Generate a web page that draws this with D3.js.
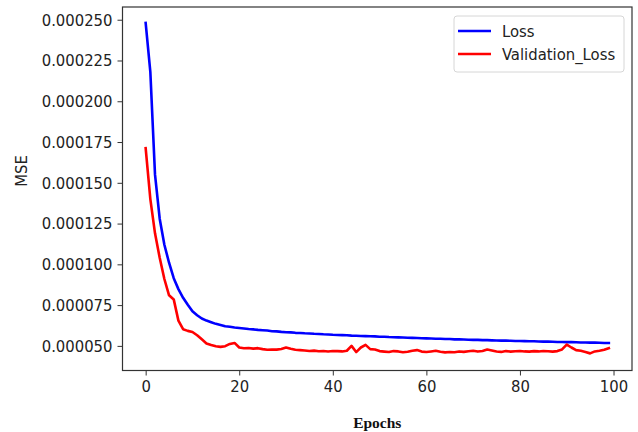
<!DOCTYPE html>
<html>
<head>
<meta charset="utf-8">
<script src="https://cdn.jsdelivr.net/npm/d3@7"></script>
<style>
    body { margin: 0; background: #fff; }
    svg { display: block; }
    .tick text { font-family: "DejaVu Sans Condensed", "DejaVu Sans", sans-serif; font-size: 16.5px; fill: #222; }
    .tick line { stroke: #333; }
    .domain { display: none; }
</style>
</head>
<body>
<div id="chart"></div>
<script>
let epochs = d3.range(0, 100);

let loss = [
    0.000248, 0.000218, 0.000155, 0.000128, 0.000112, 0.000101, 0.0000915, 0.0000848, 0.0000795, 0.0000752,
    0.0000712, 0.0000688, 0.0000668, 0.0000655, 0.0000645, 0.0000635, 0.0000628, 0.0000620, 0.0000617, 0.0000613,
    0.0000610, 0.0000607, 0.0000603, 0.0000601, 0.0000598, 0.0000596, 0.0000594, 0.0000590, 0.0000589, 0.0000586,
    0.0000584, 0.0000583, 0.0000580, 0.0000579, 0.0000577, 0.0000576, 0.0000574, 0.0000573, 0.0000571, 0.0000570,
    0.0000568, 0.0000567, 0.0000566, 0.0000565, 0.0000563, 0.0000562, 0.0000561, 0.0000560, 0.0000559, 0.0000558,
    0.0000556, 0.0000556, 0.0000554, 0.0000553, 0.0000552, 0.0000551, 0.0000550, 0.0000549, 0.0000548, 0.0000547,
    0.0000546, 0.0000545, 0.0000544, 0.0000544, 0.0000542, 0.0000542, 0.0000540, 0.0000540, 0.0000539, 0.0000538,
    0.0000537, 0.0000537, 0.0000535, 0.0000535, 0.0000534, 0.0000533, 0.0000532, 0.0000532, 0.0000531, 0.0000530,
    0.0000530, 0.0000529, 0.0000528, 0.0000528, 0.0000527, 0.0000526, 0.0000526, 0.0000525, 0.0000524, 0.0000524,
    0.0000523, 0.0000523, 0.0000522, 0.0000521, 0.0000521, 0.0000520, 0.0000520, 0.0000519, 0.0000518, 0.0000518
];

let valLoss = [
    0.0001713, 0.000140, 0.000119, 0.000104, 0.000091, 0.000081, 0.0000785, 0.0000655, 0.0000602, 0.0000592,
    0.0000585, 0.0000565, 0.0000540, 0.0000515, 0.0000505, 0.0000498, 0.0000494, 0.0000498, 0.0000512, 0.0000518,
    0.0000490, 0.0000485, 0.0000487, 0.0000483, 0.0000486, 0.0000480, 0.0000476, 0.0000478, 0.0000477, 0.0000481,
    0.0000490, 0.0000482, 0.0000476, 0.0000474, 0.0000472, 0.0000469, 0.0000471, 0.0000467, 0.0000469, 0.0000466,
    0.0000469, 0.0000468, 0.0000466, 0.0000470, 0.0000500, 0.0000462, 0.0000490, 0.0000506, 0.0000480, 0.0000478,
    0.0000468, 0.0000465, 0.0000462, 0.0000468, 0.0000466, 0.0000461, 0.0000464, 0.0000470, 0.0000474, 0.0000465,
    0.0000462, 0.0000466, 0.0000470, 0.0000464, 0.0000460, 0.0000462, 0.0000461, 0.0000466, 0.0000463, 0.0000467,
    0.0000470, 0.0000465, 0.0000469, 0.0000478, 0.0000472, 0.0000466, 0.0000463, 0.0000468, 0.0000465, 0.0000467,
    0.0000469, 0.0000466, 0.0000465, 0.0000468, 0.0000466, 0.0000469, 0.0000467, 0.0000465, 0.0000468, 0.0000478,
    0.0000508, 0.0000490, 0.0000474, 0.0000470, 0.0000462, 0.0000454, 0.0000466, 0.0000470, 0.0000476, 0.0000486
];

let xTicks = [0, 20, 40, 60, 80, 100];
let yTicks = [0.00005, 0.000075, 0.0001, 0.000125, 0.00015, 0.000175, 0.0002, 0.000225, 0.00025];

let series = [
    {name: "Loss", values: loss, color: "#0000ff"},
    {name: "Validation_Loss", values: valLoss, color: "#ff0000"}
];

let W = 638, H = 432;
let plotLeft = 122.5, plotRight = 632, plotTop = 7, plotBottom = 370.5;

let svg = d3.select("#chart").append("svg")
    .attr("width", W)
    .attr("height", H);

let x = d3.scaleLinear().domain([-4.95, 103.95]).range([plotLeft, plotRight]);
let y = d3.scaleLinear().domain([0.0000349, 0.0002578]).range([plotBottom, plotTop]);

// Axes
svg.append("g")
    .attr("transform", "translate(0," + plotBottom + ")")
    .call(d3.axisBottom(x).tickValues(xTicks).tickSize(5).tickPadding(5).tickFormat(d3.format("d")));

svg.append("g")
    .attr("transform", "translate(" + plotLeft + ",0)")
    .call(d3.axisLeft(y).tickValues(yTicks).tickSize(5).tickPadding(5).tickFormat(d3.format(".6f")));

// Lines
let line = d3.line()
    .x((d, i) => x(epochs[i]))
    .y(d => y(d));

series.forEach(s => {
    svg.append("path")
        .datum(s.values)
        .attr("fill", "none")
        .attr("stroke", s.color)
        .attr("stroke-width", 2.6)
        .attr("stroke-linejoin", "round")
        .attr("stroke-linecap", "square")
        .attr("d", line);
});

// Frame
svg.append("rect")
    .attr("x", plotLeft).attr("y", plotTop)
    .attr("width", plotRight - plotLeft).attr("height", plotBottom - plotTop)
    .attr("fill", "none")
    .attr("stroke", "#333")
    .attr("stroke-width", 1.2);

// Legend
let legend = svg.append("g").attr("transform", "translate(454,16)");
legend.append("rect")
    .attr("width", 170).attr("height", 56)
    .attr("rx", 3)
    .attr("fill", "#fff")
    .attr("stroke", "#d6d6d6");
series.forEach((s, i) => {
    let ly = 15 + i * 23;
    legend.append("line")
        .attr("x1", 4).attr("x2", 37)
        .attr("y1", ly).attr("y2", ly)
        .attr("stroke", s.color)
        .attr("stroke-width", 2.6);
    legend.append("text")
        .attr("x", 48).attr("y", ly)
        .attr("dy", "0.35em")
        .style("font-family", "'DejaVu Sans Condensed', 'DejaVu Sans', sans-serif")
        .style("font-size", "16.5px")
        .attr("fill", "#222")
        .text(s.name);
});

// Axis titles
svg.append("text")
    .attr("transform", "translate(27,171) rotate(-90)")
    .attr("text-anchor", "middle")
    .style("font-family", "'DejaVu Sans Condensed', 'DejaVu Sans', sans-serif")
    .style("font-size", "16.5px")
    .attr("fill", "#222")
    .text("MSE");

svg.append("text")
    .attr("x", (plotLeft + plotRight) / 2).attr("y", 428)
    .attr("text-anchor", "middle")
    .style("font-family", "'Liberation Serif', 'Times New Roman', serif")
    .style("font-weight", "bold")
    .style("font-size", "15.5px")
    .attr("fill", "#111")
    .text("Epochs");
</script>
</body>
</html>
